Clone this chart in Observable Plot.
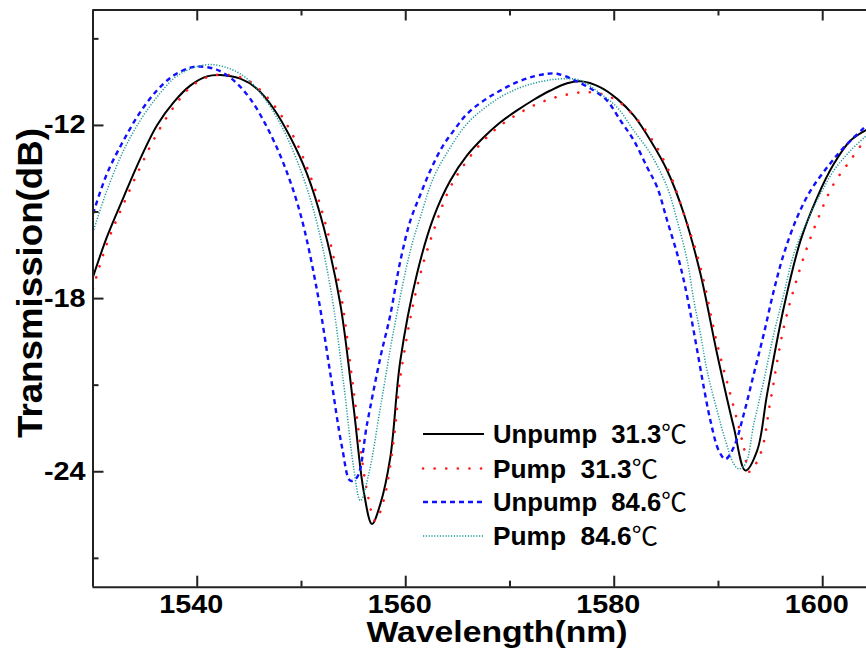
<!DOCTYPE html>
<html>
<head>
<meta charset="utf-8">
<script src="https://cdn.jsdelivr.net/npm/d3@7"></script>
<script src="https://cdn.jsdelivr.net/npm/@observablehq/plot@0.6"></script>
<style>
  html, body { margin: 0; padding: 0; background: #fff; }
  svg text { white-space: pre; }
</style>
</head>
<body>
<div id="chart"></div>
<script>
// ---- data (wavelength nm, transmission dB) ----
const unpump313 = [
  [1530.0,-17.25],[1531.33,-15.87],[1532.93,-14.49],[1534.53,-13.16],[1536.13,-12.0],
  [1537.73,-11.2],[1539.33,-10.62],[1540.93,-10.30],[1542.2,-10.25],[1544.13,-10.38],
  [1545.73,-10.73],[1547.33,-11.42],[1548.93,-12.41],[1550.53,-13.68],[1552.13,-15.53],
  [1553.72,-18.18],[1555.0,-21.77],[1555.96,-24.66],[1556.76,-25.81],[1557.56,-25.12],
  [1558.52,-23.5],[1559.48,-20.15],[1561.08,-17.14],[1562.68,-15.18],[1564.28,-13.91],
  [1565.88,-13.04],[1567.48,-12.41],[1569.08,-11.89],[1570.68,-11.48],[1572.28,-11.11],
  [1573.88,-10.79],[1575.48,-10.54],[1576.76,-10.47],[1578.68,-10.68],[1580.28,-11.08],
  [1581.88,-11.66],[1583.48,-12.52],[1585.08,-13.56],[1586.68,-15.06],[1588.27,-17.14],
  [1589.87,-19.92],[1591.47,-22.46],[1592.59,-23.96],[1593.71,-23.27],[1594.67,-21.3],
  [1596.27,-18.3],[1597.87,-15.99],[1599.47,-14.49],[1601.07,-13.33],[1602.67,-12.52],
  [1604.2,-12.15]
];
const pump313 = [
  [1530.0,-17.65],[1531.33,-16.1],[1532.93,-14.72],[1534.53,-13.45],[1536.13,-12.29],
  [1537.73,-11.37],[1539.33,-10.68],[1540.93,-10.33],[1542.53,-10.24],[1544.77,-10.42],
  [1547.0,-11.14],[1548.93,-12.18],[1550.53,-13.45],[1552.13,-15.18],[1553.72,-17.72],
  [1555.0,-21.19],[1556.28,-24.66],[1557.08,-25.7],[1557.88,-25.0],[1558.84,-22.92],
  [1559.48,-20.73],[1561.08,-17.61],[1562.68,-15.64],[1564.28,-14.14],[1565.88,-13.22],
  [1567.48,-12.52],[1569.08,-12.0],[1570.68,-11.62],[1572.28,-11.31],[1573.88,-11.08],
  [1575.48,-10.93],[1577.08,-10.85],[1578.68,-10.9],[1580.28,-11.14],[1581.88,-11.66],
  [1583.48,-12.41],[1585.08,-13.45],[1586.68,-15.06],[1588.27,-16.91],[1589.87,-19.57],
  [1591.47,-21.77],[1592.43,-23.15],[1592.95,-24.0],[1594.03,-23.38],[1594.99,-21.54],
  [1596.27,-18.99],[1597.87,-16.91],[1599.47,-15.3],[1601.07,-14.02],[1602.67,-13.2],
  [1604.2,-12.41]
];
const unpump846 = [
  [1530.0,-15.06],[1531.33,-13.68],[1532.93,-12.52],[1534.53,-11.54],[1536.13,-10.79],
  [1537.73,-10.27],[1539.33,-10.0],[1540.29,-9.96],[1541.89,-10.07],[1543.49,-10.44],
  [1545.09,-11.08],[1546.69,-12.06],[1548.29,-13.33],[1549.89,-15.06],[1551.49,-17.72],
  [1552.77,-20.61],[1553.89,-23.15],[1554.69,-24.31],[1555.33,-24.19],[1556.29,-22.34],
  [1557.57,-20.03],[1558.5,-18.6],[1559.48,-16.7],[1560.44,-15.3],[1561.4,-14.4],
  [1562.36,-13.56],[1563.48,-12.76],[1564.6,-12.18],[1565.88,-11.6],[1567.48,-11.14],
  [1569.08,-10.79],[1570.68,-10.5],[1572.28,-10.3],[1573.56,-10.21],[1574.52,-10.21],
  [1576.12,-10.42],[1578.04,-10.79],[1579.32,-11.14],[1580.6,-11.83],[1581.88,-12.52],
  [1583.16,-13.45],[1584.12,-14.14],[1585.08,-15.3],[1586.04,-16.45],[1586.68,-17.38],
  [1587.32,-18.53],[1587.96,-19.8],[1588.59,-21.07],[1589.23,-22.23],[1590.03,-23.27],
  [1590.67,-23.56],[1591.47,-23.15],[1592.43,-22.0],[1593.39,-20.61],[1594.35,-19.22],
  [1595.31,-17.72],[1596.27,-16.45],[1597.55,-15.18],[1598.83,-14.26],[1600.43,-13.45],
  [1602.03,-12.76],[1604.2,-12.0]
];
const pump846 = [
  [1530.0,-15.7],[1531.33,-14.26],[1532.93,-12.87],[1534.53,-11.83],[1536.13,-11.02],
  [1537.73,-10.38],[1539.33,-10.04],[1541.25,-9.89],[1543.17,-10.04],[1544.77,-10.38],
  [1546.37,-11.02],[1547.97,-11.94],[1549.57,-13.22],[1551.17,-14.95],[1552.77,-17.61],
  [1554.05,-20.96],[1555.0,-23.85],[1555.65,-25.0],[1556.45,-24.08],[1557.57,-21.77],
  [1558.84,-19.11],[1560.44,-16.34],[1561.4,-15.18],[1562.68,-13.8],[1564.28,-12.76],
  [1565.88,-11.94],[1567.48,-11.42],[1569.08,-11.02],[1570.68,-10.73],[1572.28,-10.54],
  [1573.88,-10.42],[1575.48,-10.38],[1576.76,-10.44],[1578.68,-10.9],[1580.28,-11.37],
  [1581.88,-12.18],[1583.48,-12.98],[1585.08,-14.14],[1586.04,-15.3],[1587.0,-16.68],
  [1587.64,-18.07],[1588.27,-19.22],[1588.91,-20.5],[1589.87,-21.88],[1590.67,-22.92],
  [1591.47,-23.73],[1591.95,-23.9],[1592.59,-23.73],[1593.39,-22.34],[1594.35,-20.84],
  [1595.31,-19.22],[1596.27,-17.84],[1597.23,-16.45],[1598.51,-15.3],[1599.79,-14.37],
  [1601.07,-13.56],[1602.67,-12.87],[1604.2,-12.35]
];
const seriesLabels = ["Unpump  31.3", "Pump  31.3", "Unpump  84.6", "Pump  84.6"];
const tempUnit = "℃";
const xMajorTicks = [1540, 1560, 1580, 1600];
const xMinorTicks = [1550, 1570, 1590];
const yMajorTicks = [-12, -18, -24];
const yMinorTicks = [-9, -15, -21, -27];
const xDomain = [1530, 1604.2];
const yDomain = [-28, -8];
const xTitle = "Wavelength(nm)";
const yTitle = "Transmission(dB)";

// ---- styles ----
const styles = [
  {stroke: "#000000", strokeWidth: 2, dash: null, cap: "butt"},
  {stroke: "#ff1a1a", strokeWidth: 2.6, dash: "0.1 11.5", cap: "round"},
  {stroke: "#1010ff", strokeWidth: 2.4, dash: "5 4", cap: "butt"},
  {stroke: "#1e9a9a", strokeWidth: 1.5, dash: "1.2 1.6", cap: "butt"}
];
const seriesData = [unpump313, pump313, unpump846, pump846];

const W = 866, H = 650;
const mL = 92.5, mR = 0, mT = 9.5, mB = 63.3;
const plotW = W - mL - mR, plotH = H - mT - mB;
const majorLen = 11, minorLen = 6;

const lineMarks = seriesData.map((data, i) => Plot.line(data, {
  x: d => d[0], y: d => d[1],
  stroke: styles[i].stroke, strokeWidth: styles[i].strokeWidth,
  strokeDasharray: styles[i].dash, strokeLinecap: styles[i].cap,
  curve: "catmull-rom", clip: true
}));

const chart = Plot.plot({
  width: W, height: H,
  marginLeft: mL, marginRight: mR, marginTop: mT, marginBottom: mB,
  x: {domain: xDomain},
  y: {domain: yDomain},
  style: {fontFamily: "'Liberation Sans', Arial, sans-serif", fontWeight: "bold", fontSize: "25px", background: "#fff", color: "#000", overflow: "visible"},
  marks: [
    Plot.axisX(xMajorTicks, {tickSize: 0, tickPadding: 8, dx: -6, tickFormat: d => String(d), label: null}),
    Plot.axisY(yMajorTicks, {tickSize: 0, tickPadding: 7.5, tickFormat: d => String(d), label: null}),
    ...lineMarks,
    // inward tick marks: bottom, top, left
    Plot.tickX(xMajorTicks, {x: d => d, insetTop: plotH - majorLen, stroke: "#222", strokeWidth: 2}),
    Plot.tickX(xMinorTicks, {x: d => d, insetTop: plotH - minorLen, stroke: "#222", strokeWidth: 2}),
    Plot.tickX(xMajorTicks, {x: d => d, insetBottom: plotH - majorLen, stroke: "#222", strokeWidth: 2}),
    Plot.tickX(xMinorTicks, {x: d => d, insetBottom: plotH - minorLen, stroke: "#222", strokeWidth: 2}),
    Plot.tickY(yMajorTicks, {y: d => d, insetRight: plotW - majorLen, stroke: "#222", strokeWidth: 2}),
    Plot.tickY(yMinorTicks, {y: d => d, insetRight: plotW - minorLen, stroke: "#222", strokeWidth: 2}),
    // frame (left, top, bottom; right edge is outside the picture)
    Plot.ruleX([xDomain[0]], {stroke: "#222", strokeWidth: 2}),
    Plot.ruleY([yDomain[1], yDomain[0]], {stroke: "#222", strokeWidth: 2})
  ]
});
document.getElementById("chart").append(chart);

const svg = d3.select(chart);
// stretch tick labels horizontally like the reference
chart.querySelectorAll('g[aria-label="x-axis tick label"] text, g[aria-label="y-axis tick label"] text').forEach(t => {
  const len = t.getComputedTextLength();
  t.setAttribute("textLength", (len * 1.15).toFixed(1));
  t.setAttribute("lengthAdjust", "spacingAndGlyphs");
});

// axis titles
svg.append("text")
  .attr("x", 497).attr("y", 642)
  .attr("text-anchor", "middle")
  .attr("font-size", 29).attr("font-weight", "bold")
  .attr("textLength", 261).attr("lengthAdjust", "spacingAndGlyphs")
  .text(xTitle);
svg.append("text")
  .attr("transform", "translate(42,283) rotate(-90)")
  .attr("text-anchor", "middle")
  .attr("font-size", 35).attr("font-weight", "bold")
  .attr("textLength", 310).attr("lengthAdjust", "spacingAndGlyphs")
  .text(yTitle);

// legend
const legendRows = [434, 468.5, 502, 536];
const legendLens = [194, 165, 194, 165];
const lg = svg.append("g").attr("aria-label", "legend");
seriesLabels.forEach((name, i) => {
  const s = styles[i];
  lg.append("line")
    .attr("x1", 423).attr("x2", 484)
    .attr("y1", legendRows[i]).attr("y2", legendRows[i])
    .attr("stroke", s.stroke).attr("stroke-width", s.strokeWidth)
    .attr("stroke-dasharray", s.dash).attr("stroke-linecap", s.cap);
  const t = lg.append("text")
    .attr("x", 493).attr("y", legendRows[i] + 9.3)
    .attr("text-anchor", "start")
    .attr("font-size", 25).attr("font-weight", "bold")
    .attr("textLength", legendLens[i]).attr("lengthAdjust", "spacingAndGlyphs");
  t.append("tspan").text(name);
  t.append("tspan")
    .attr("font-weight", "normal")
    .attr("font-family", "'Noto Sans CJK SC', 'Noto Sans', sans-serif")
    .text(tempUnit);
});
</script>
</body>
</html>
